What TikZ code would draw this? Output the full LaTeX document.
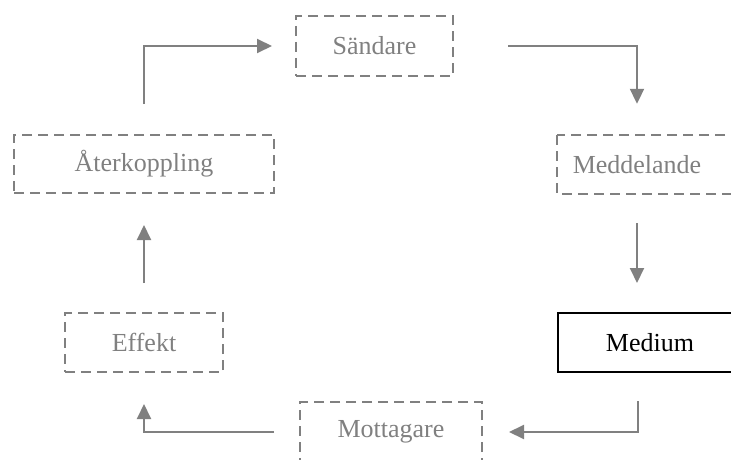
\documentclass[tikz,border=0pt]{standalone}
\usepackage{fontspec}
\setmainfont{Liberation Serif}
\usetikzlibrary{arrows.meta,calc}
\definecolor{stepgray}{HTML}{808080}
\begin{document}
\begin{tikzpicture}[x=1pt,y=-1pt,
  every node/.style={font=\fontsize{26}{30}\selectfont, inner sep=0pt},
  dashbox/.style={draw=stepgray, line width=2pt, dash pattern=on 10pt off 6pt, text=stepgray},
  plainbox/.style={draw=black, line width=1.5pt, text=black},
  labelonly/.style={text=stepgray},
  flow/.style={draw=stepgray, line width=2pt, -{Triangle[length=15pt,width=14pt]}}]
\useasboundingbox (0,0) rectangle (731,460);
\clip (0,0) rectangle (731,460);

% stages of the cycle
\node[dashbox, minimum width=157pt, minimum height=60pt] (snd) at (374.5,46) {Sändare};
\node[dashbox, minimum width=260pt, minimum height=58pt] (ater) at (144,164) {Återkoppling};
\node[dashbox, minimum width=158pt, minimum height=59pt] (eff) at (144,342.5) {Effekt};
\node[dashbox, minimum width=182pt, minimum height=60pt] (mott) at (391,432) {Mottagare};

% boxes running past the right margin
\draw[dashbox] (557,135) rectangle (750,194);
\node[labelonly, minimum width=160pt, minimum height=59pt] (medd) at (637,164.5) {Meddelande};
\draw[plainbox] (558,313) rectangle (750,372);
\node[text=black, minimum height=59pt] (med) at (650,342.5) {Medium};

% connectors
\draw[flow, shorten <=30pt, shorten >=23pt] (ater.north) |- (snd.west);
\draw[flow, shorten <=54pt, shorten >=31pt] (snd.east) -| (medd.north);
\draw[flow, shorten <=29pt, shorten >=30pt] (medd.south) -- (medd.south |- 0,313);
\draw[flow, shorten >=26pt] ($(med.south)+(-12,29)$) |- (mott.east);
\draw[flow, shorten <=25pt, shorten >=31pt] (mott.west) -| (eff.south);
\draw[flow, shorten <=29pt, shorten >=31pt] (eff.north) -- (ater.south);
\end{tikzpicture}
\end{document}
